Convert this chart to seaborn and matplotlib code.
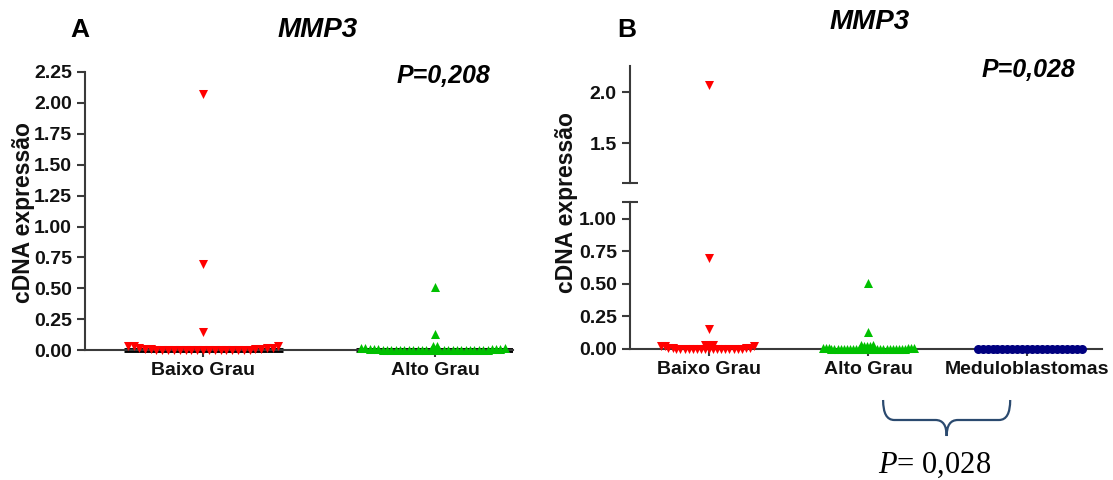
import numpy as np
import pandas as pd
import matplotlib
matplotlib.use('Agg')
from matplotlib import pyplot as plt
from matplotlib.path import Path
from matplotlib.patches import PathPatch
from matplotlib.collections import PathCollection
import matplotlib.transforms as mtransforms
import seaborn as sns

# valores (cDNA expressao, MMP3)
grupos = ['Baixo Grau', 'Alto Grau', 'Meduloblastomas']
baixo_grau = [2.07, 0.70, 0.15, 0.03, 0.03, 0.03, 0.02, 0.02, 0.02, 0.01,
              0.01, 0.01, 0.01, 0.0, 0.0, 0.0, 0.0, 0.0, 0.0, 0.0,
              0.0, 0.0, 0.0, 0.0, 0.0, 0.0, 0.0, 0.0, 0.0, 0.0]
alto_grau = [0.51, 0.13, 0.03, 0.03, 0.02, 0.02, 0.02, 0.01, 0.01, 0.01,
             0.01, 0.01, 0.01, 0.0, 0.0, 0.0, 0.0, 0.0, 0.0, 0.0,
             0.0, 0.0, 0.0, 0.0, 0.0, 0.0, 0.0, 0.0, 0.0, 0.0,
             0.0, 0.0, 0.0, 0.0, 0.0, 0.0, 0.0, 0.0]
meduloblastomas = [0.0, 0.0, 0.0, 0.0, 0.0, 0.0, 0.0, 0.0, 0.0, 0.0, 0.0,
                   0.0, 0.0, 0.0, 0.0, 0.0, 0.0, 0.0, 0.0, 0.0, 0.0, 0.0]
cores = ['#ff0000', '#00c000', '#000080']
marcadores = ['v', '^', 'o']
ticks_A = [0.0, 0.25, 0.5, 0.75, 1.0, 1.25, 1.5, 1.75, 2.0, 2.25]
ticks_B_baixo = [0.0, 0.25, 0.5, 0.75, 1.0]
ticks_B_alto = [1.5, 2.0]
p_A = 'P=0,208'
p_B = 'P=0,028'

df = pd.DataFrame({
    'grupo': ['Baixo Grau'] * len(baixo_grau) + ['Alto Grau'] * len(alto_grau)
             + ['Meduloblastomas'] * len(meduloblastomas),
    'valor': baixo_grau + alto_grau + meduloblastomas,
})

sns.set_style('ticks')
plt.rcParams['font.family'] = ['Liberation Sans', 'DejaVu Sans']
plt.rcParams['text.color'] = 'black'
plt.rcParams['mathtext.fontset'] = 'custom'
plt.rcParams['mathtext.it'] = 'Liberation Serif:italic'
plt.rcParams['mathtext.rm'] = 'Liberation Serif'

W, H = 1113, 480
fig = plt.figure(figsize=(W / 100, H / 100), dpi=100)
TAM = 6.5  # tamanho dos marcadores (pt)


def px(x0, y0, x1, y1):
    # caixa em pixels (topo-esquerda) -> fracao da figura
    return [x0 / W, 1 - y1 / H, (x1 - x0) / W, (y1 - y0) / H]


cor_eixo = '#3a3a3a'


def estilo(ax, ticks_y, labels_y=None):
    ax.set_yticks(ticks_y)
    ax.set_yticklabels(labels_y if labels_y else ['%.2f' % t for t in ticks_y])
    for s in ['top', 'right']:
        ax.spines[s].set_visible(False)
    for s in ['left', 'bottom']:
        ax.spines[s].set_color(cor_eixo)
        ax.spines[s].set_linewidth(1.5)
    ax.tick_params(axis='both', colors=cor_eixo, width=1.5, length=6,
                   labelcolor='#111111', labelsize=14)
    for lab in ax.get_yticklabels() + ax.get_xticklabels():
        lab.set_fontweight('bold')
    ax.set_xlabel('')
    ax.set_ylabel('')


def pontos(ax, grupos_plot, tam_fila):
    # pontos isolados no centro; valores ~0 numa fila (swarm, com sobreposicao)
    for i, g in enumerate(grupos_plot):
        sub = df[df['grupo'] == g]
        alto = sub[sub['valor'] > 0.1]
        fila = sub[sub['valor'] <= 0.1]
        if len(alto):
            sns.stripplot(data=alto, x='grupo', y='valor', order=grupos_plot,
                          ax=ax, color=cores[i], marker=marcadores[i],
                          size=TAM, jitter=False, linewidth=0, zorder=3)
        sns.swarmplot(data=fila, x='grupo', y='valor', order=grupos_plot,
                      ax=ax, color=cores[i], marker=marcadores[i],
                      size=tam_fila[i], linewidth=0, zorder=3, warn_thresh=1)


# ---- painel A ----
axA = fig.add_axes(px(85, 72, 513, 360))
gA = grupos[:2]
axA.set_ylim(-0.08, 2.25)
axA.set_xlim(-0.509, 1.336)
pontos(axA, gA, [4.0, 3.0])
for i, g in enumerate(gA):
    med = np.median(df.loc[df['grupo'] == g, 'valor'])
    axA.hlines(med, i - 0.34, i + 0.345, color='black', lw=3.5, zorder=2)
axA.set_ylim(-0.08, 2.25)
axA.set_xlim(-0.509, 1.336)
estilo(axA, ticks_A)
axA.spines['bottom'].set_position(('data', 0))
axA.spines['left'].set_bounds(0, 2.25)
axA.tick_params(axis='x', labelsize=14, length=5)
for lab in axA.get_xticklabels():
    lab.set_fontweight('bold')
fig.text(24 / W, 1 - 213 / H, 'cDNA expressão', rotation=90, ha='center',
         va='center', fontsize=16.5, fontweight='bold', color='#111111')
fig.text(80 / W, 1 - 30 / H, 'A', ha='center', va='center', fontsize=19,
         fontweight='bold')
fig.text(318 / W, 1 - 30 / H, 'MMP3', ha='center', va='center', fontsize=20,
         fontweight='bold', style='italic')
fig.text(443 / W, 1 - 76 / H, p_A, ha='center', va='center', fontsize=18,
         fontweight='bold', style='italic')

# ---- painel B (eixo com quebra) ----
axB = fig.add_axes(px(630, 202, 1102, 359.4))
axT = fig.add_axes(px(630, 66, 1102, 183))
axB.set_ylim(-0.08, 1.13)
axT.set_ylim(1.108, 2.255)
for ax in [axB, axT]:
    ax.set_xlim(-0.497, 2.47)
pontos(axB, grupos, [2.8, 2.1, 3.4])
pontos(axT, grupos, [2.8, 2.1, 3.4])
axB.set_ylim(-0.08, 1.13)
axT.set_ylim(1.108, 2.255)
for ax in [axB, axT]:
    ax.set_xlim(-0.497, 2.47)
estilo(axB, ticks_B_baixo)
estilo(axT, ticks_B_alto, ['1.5', '2.0'])
axB.spines['bottom'].set_position(('data', 0))
axB.spines['left'].set_bounds(0, 1.13)
axB.tick_params(axis='x', labelsize=14, length=5)
for lab in axB.get_xticklabels():
    lab.set_fontweight('bold')
axT.spines['bottom'].set_visible(False)
axT.tick_params(axis='x', bottom=False, labelbottom=False)
# marcas da quebra
axB.set_yticks([1.13], minor=True)
axT.set_yticks([1.108], minor=True)
for ax in [axB, axT]:
    ax.tick_params(axis='y', which='minor', direction='inout', length=12,
                   width=1.5, colors=cor_eixo)
fig.text(566 / W, 1 - 203 / H, 'cDNA expressão', rotation=90, ha='center',
         va='center', fontsize=16.5, fontweight='bold', color='#111111')
fig.text(627 / W, 1 - 30 / H, 'B', ha='center', va='center', fontsize=19,
         fontweight='bold')
fig.text(870 / W, 1 - 22 / H, 'MMP3', ha='center', va='center', fontsize=20,
         fontweight='bold', style='italic')
fig.text(1028 / W, 1 - 70 / H, p_B, ha='center', va='center', fontsize=18,
         fontweight='bold', style='italic')

# chave entre Alto Grau e Meduloblastomas
trans = mtransforms.blended_transform_factory(axB.transData, fig.transFigure)
x0, x1 = 1.094, 1.893
xm = (x0 + x1) / 2
y_topo, y_meio, y_ponta = 1 - 400 / H, 1 - 420 / H, 1 - 436 / H
r = 0.07
verts = [(x0, y_topo), (x0, y_meio), (x0 + r, y_meio),
         (xm - r, y_meio), (xm, y_meio), (xm, y_ponta),
         (xm, y_meio), (xm + r, y_meio),
         (x1 - r, y_meio), (x1, y_meio), (x1, y_topo)]
codes = [Path.MOVETO, Path.CURVE3, Path.CURVE3,
         Path.LINETO, Path.CURVE3, Path.CURVE3,
         Path.CURVE3, Path.CURVE3,
         Path.LINETO, Path.CURVE3, Path.CURVE3]
fig.patches.append(PathPatch(Path(verts, codes), transform=trans, fill=False,
                             edgecolor='#2b4a6f', lw=1.6))
fig.text(935 / W, 1 - 465 / H, '$P$= 0,028', ha='center', va='center',
         fontsize=22, family='Liberation Serif')

# o swarm calcula as posicoes no desenho; depois fixa-se e aumenta-se o marcador
fig.canvas.draw()
for ax in [axA, axB, axT]:
    for col in ax.collections:
        if not isinstance(col, PathCollection):
            continue
        if 'draw' in col.__dict__:
            del col.draw
        col.set_sizes([TAM ** 2])

fig.savefig('out.png', dpi=100)
